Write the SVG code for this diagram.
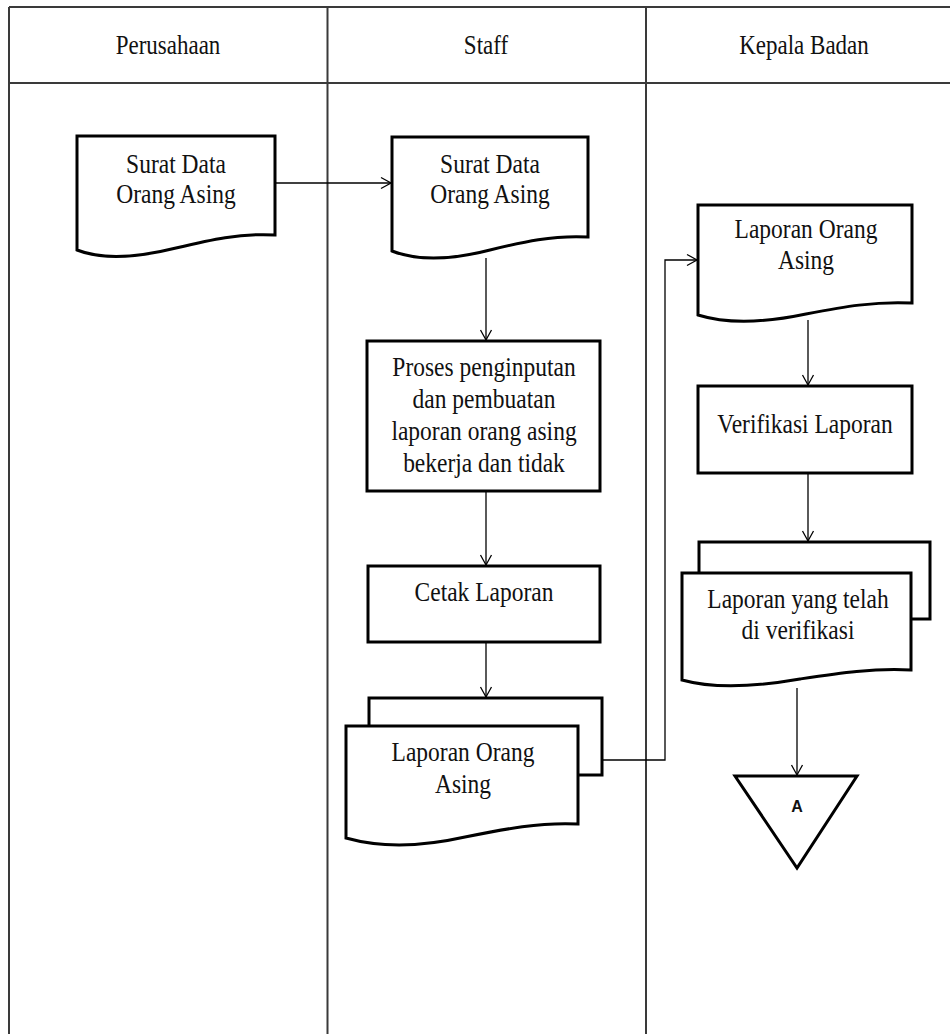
<svg xmlns="http://www.w3.org/2000/svg" width="950" height="1034" viewBox="0 0 950 1034">
<style>
.frame{stroke:#3a3a3a;stroke-width:2;fill:none}
.shape{stroke:#000;stroke-width:3;fill:#fff;stroke-linejoin:miter}
.conn{stroke:#000;stroke-width:1.3;fill:none}
.t{font-family:"Liberation Serif","Times New Roman",serif;font-size:23.5px;fill:#111;text-anchor:middle}
.h{font-family:"Liberation Serif","Times New Roman",serif;font-size:23px;fill:#111;text-anchor:middle}
.s{font-family:"Liberation Sans",Arial,sans-serif;font-size:16px;fill:#111;text-anchor:middle}
</style>
<defs>
<marker id="arr" markerUnits="userSpaceOnUse" markerWidth="14" markerHeight="14" refX="11" refY="6" orient="auto" viewBox="0 0 14 12">
<path d="M1,0.5 L11,6 L1,11.5" fill="none" stroke="#000" stroke-width="1.3"/>
</marker>
</defs>
<rect width="950" height="1034" fill="#fff"/>
<g id="frame">
<line class="frame" x1="9" y1="7" x2="950" y2="7"/>
<line class="frame" x1="9" y1="7" x2="9" y2="1034"/>
<line class="frame" x1="9" y1="83" x2="950" y2="83"/>
<line class="frame" x1="327.5" y1="7" x2="327.5" y2="1034"/>
<line class="frame" x1="646" y1="7" x2="646" y2="1034"/>
<text class="h" transform="matrix(1,0,0,1.15,168,54)">Perusahaan</text>
<text class="h" transform="matrix(1,0,0,1.15,486,54)">Staff</text>
<text class="h" transform="matrix(1,0,0,1.15,804,54)">Kepala Badan</text>
</g>
<g id="connectors">
<line class="conn" x1="275" y1="183" x2="391" y2="183" marker-end="url(#arr)"/>
<line class="conn" x1="486" y1="258" x2="486" y2="340" marker-end="url(#arr)"/>
<line class="conn" x1="486" y1="491" x2="486" y2="565" marker-end="url(#arr)"/>
<line class="conn" x1="486" y1="642" x2="486" y2="697" marker-end="url(#arr)"/>
<polyline class="conn" points="602,760 665,760 665,260 697,260" marker-end="url(#arr)"/>
<line class="conn" x1="808" y1="320" x2="808" y2="385" marker-end="url(#arr)"/>
<line class="conn" x1="808" y1="473" x2="808" y2="541" marker-end="url(#arr)"/>
<line class="conn" x1="797" y1="688" x2="797" y2="775" marker-end="url(#arr)"/>
</g>
<g id="doc-perusahaan">
<path class="shape" d="M77,136 H275 V235 C240,233 210,240 176,248 C140,257 105,261 77,250 Z"/>
<text class="t" transform="matrix(1,0,0,1.12,176,173)">Surat Data</text>
<text class="t" transform="matrix(1,0,0,1.12,176,203)">Orang Asing</text>
</g>
<g id="doc-staff">
<path class="shape" d="M392,137 H588 V237 C553,235 523,242 490,250 C455,259 420,262 392,251 Z"/>
<text class="t" transform="matrix(1,0,0,1.12,490,173)">Surat Data</text>
<text class="t" transform="matrix(1,0,0,1.12,490,203)">Orang Asing</text>
</g>
<g id="proc-input">
<rect class="shape" x="367" y="341" width="233" height="150"/>
<text class="t" transform="matrix(1,0,0,1.12,484,376)">Proses penginputan</text>
<text class="t" transform="matrix(1,0,0,1.12,484,408)">dan pembuatan</text>
<text class="t" transform="matrix(1,0,0,1.12,484,440)">laporan orang asing</text>
<text class="t" transform="matrix(1,0,0,1.12,484,472)">bekerja dan tidak</text>
</g>
<g id="proc-cetak">
<rect class="shape" x="368" y="566" width="232" height="76"/>
<text class="t" transform="matrix(1,0,0,1.12,484,601)">Cetak Laporan</text>
</g>
<g id="docs-staff-laporan">
<rect class="shape" x="369" y="698" width="233" height="77"/>
<path class="shape" d="M346,726 H578 V824 C540,822 505,829 465,837 C425,846 385,849 346,838 Z"/>
<text class="t" transform="matrix(1,0,0,1.12,463,761)">Laporan Orang</text>
<text class="t" transform="matrix(1,0,0,1.12,463,793)">Asing</text>
</g>
<g id="doc-kepala-laporan">
<path class="shape" d="M698,205 H912 V303 C875,301 843,307 806,314 C768,322 730,325 698,315 Z"/>
<text class="t" transform="matrix(1,0,0,1.12,806,238)">Laporan Orang</text>
<text class="t" transform="matrix(1,0,0,1.12,806,269)">Asing</text>
</g>
<g id="proc-verifikasi">
<rect class="shape" x="698" y="386" width="214" height="87"/>
<text class="t" transform="matrix(1,0,0,1.12,805,433)">Verifikasi Laporan</text>
</g>
<g id="docs-kepala-verif">
<rect class="shape" x="699" y="542" width="231" height="77"/>
<path class="shape" d="M682,573 H911 V670 C873,668 840,673 800,679 C760,686 718,690 682,680 Z"/>
<text class="t" transform="matrix(1,0,0,1.12,798,608)">Laporan yang telah</text>
<text class="t" transform="matrix(1,0,0,1.12,798,639)">di verifikasi</text>
</g>
<g id="connector-a">
<path class="shape" d="M735,776 H857 L797,868 Z"/>
<text class="s" x="797" y="812" font-weight="bold" fill="#222">A</text>
</g>
</svg>
